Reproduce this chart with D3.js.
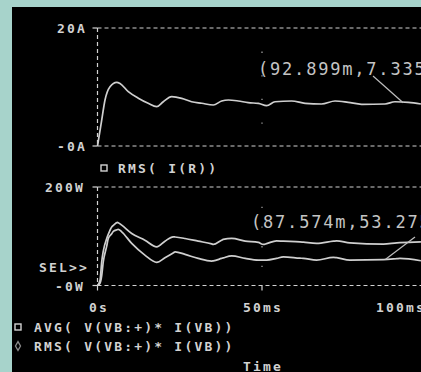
<!DOCTYPE html>
<html><head><meta charset="utf-8">
<script src="https://cdn.jsdelivr.net/npm/d3@7"></script>
<style>html,body{margin:0;padding:0;background:#a7d3cb;}svg{display:block;}</style>
</head><body>
<svg id="c" width="421" height="372"></svg>
<script>
// ---- data ----
const timeMs = [0,1.28,2.28,3.8,5.84,6.84,9.36,12.4,15.4,18.0,20.0,22.55,25.6,28.6,31.7,35.2,37.75,39.8,42.8,45.8,48.9,51.4,53.95,59.0,63.1,68.1,72.2,76.2,80.3,87.4,90.4,94.5,98.3];
const rmsIR  = [0,4.4,7.8,10.05,10.8,10.6,9.2,8.1,7.24,6.66,7.5,8.36,8.08,7.5,7.24,6.95,7.63,7.8,7.63,7.34,7.24,6.83,7.5,7.63,7.24,7.12,7.63,7.4,7.07,7.12,7.5,7.4,7.12];
const timeMs2 = [0,0.76,1.28,1.76,2.8,3.28,4.32,4.8,6.14,6.3,7.36,10.4,14.4,18.0,20.5,23.0,23.6,26.6,30.6,34.7,35.2,37.7,38.2,40.8,44.9,48.9,50.4,51.4,54.4,56.5,61.5,62.6,66.6,71.7,72.7,76.7,86.9,91.0,91.9,98.3];
const rmsP = [0,10,48.2,70,95.5,104,119,122,128,127.5,122.5,105.7,92.1,78.5,90,98.8,98.5,95.5,90,84.5,83.4,92,93.5,95.5,90,87.4,83.4,85,90.7,90,88.7,88,85.4,90,90.7,86.6,84,86.6,87,88.7];
const avgP = [0,4.5,20,48.2,80,95.5,105,110,113.5,114,109,85.4,61.7,47,56.3,66,68.4,63.2,55,49.6,50,55,56,60.3,55,51.6,51.6,51.6,55,58.3,55.5,55,51.6,57.1,56.5,51.6,52.5,54.5,55,50.2];
const xTicks = [{t:0,label:"0s"},{t:50,label:"50ms"},{t:100,label:"100ms"}];
const topTicks = [{v:20,label:"20A"},{v:0,label:"-0A"}];
const botTicks = [{v:200,label:"200W"},{v:0,label:"-0W"}];
const cursors = [{panel:"top",t:92.899,v:7.335,text:"(92.899m,7.335"},{panel:"bot",t:87.574,v:53.275,text:"(87.574m,53.275"}];
const legendTop = ["RMS( I(R))"];
const legendBot = ["AVG( V(VB:+)* I(VB))","RMS( V(VB:+)* I(VB))"];

// ---- drawing ----
const svg = d3.select("#c");
const fg = "#d2d2d2";
const font = "'DejaVu Sans Mono', monospace";
svg.append("rect").attr("x",12).attr("y",7).attr("width",409).attr("height",365).attr("fill","#000");

const x = d3.scaleLinear().domain([0,100]).range([97.5,426.5]);
const yT = d3.scaleLinear().domain([0,20]).range([146,28]);
const yB = d3.scaleLinear().domain([0,200]).range([285.5,187]);

function label(txt,xx,yy,opt={}) {
  return svg.append("text").attr("x",xx).attr("y",yy).text(txt)
    .attr("fill",opt.fill||fg).attr("font-family",font)
    .attr("font-size",opt.size||13).attr("font-weight",opt.weight||"bold")
    .attr("letter-spacing",opt.ls!==undefined?opt.ls:2.2);
}

function panel(y, ticks, labelX) {
  const g = svg.append("g");
  const [y0,y1] = y.range();
  ticks.forEach((d,i)=>{
    g.append("line").attr("x1",x(0)).attr("x2",421).attr("y1",y(d.v)).attr("y2",y(d.v))
      .attr("stroke",fg).attr("stroke-width",1.2).attr("stroke-dasharray","4,3");
    g.append("line").attr("x1",x(0)-5).attr("x2",x(0)).attr("y1",y(d.v)).attr("y2",y(d.v))
      .attr("stroke",fg).attr("stroke-width",1.2);
    label(d.label, labelX[i], y(d.v)+5);
  });
  g.append("line").attr("x1",x(0)).attr("x2",x(0)).attr("y1",y1).attr("y2",y0)
    .attr("stroke",fg).attr("stroke-width",1.2).attr("stroke-dasharray","4,3");
  // dotted grid at 50ms
  g.append("line").attr("x1",x(50)).attr("x2",x(50)).attr("y1",y1).attr("y2",y0)
    .attr("stroke","#9a9a9a").attr("stroke-width",1.3)
    .attr("stroke-dasharray","1.3,"+((y0-y1)/ (y===yT?5:5) -1.3));
}
panel(yT, topTicks, [57,57]);
panel(yB, botTicks, [45,55]);

// x ticks
xTicks.forEach(d=>{
  if (x(d.t) < 421) svg.append("line").attr("x1",x(d.t)).attr("x2",x(d.t)).attr("y1",yB(0)).attr("y2",yB(0)+5)
    .attr("stroke",fg).attr("stroke-width",1.2);
});
label(xTicks[0].label, 89, 312);
label(xTicks[1].label, 243, 312);
label(xTicks[2].label, 376, 312);
label("SEL>>", 39, 272);
label("Time", 243, 371);

// curves
const lineT = d3.line().x((d,i)=>x(timeMs[i])).y(d=>yT(d)).curve(d3.curveMonotoneX);
const lineB = d3.line().x((d,i)=>x(timeMs2[i])).y(d=>yB(d)).curve(d3.curveMonotoneX);
const cp = svg.append("clipPath").attr("id","cp").append("rect").attr("x",12).attr("y",7).attr("width",409).attr("height",365);
[[lineT,rmsIR],[lineB,rmsP],[lineB,avgP]].forEach(([l,v])=>{
  svg.append("path").attr("d",l(v)).attr("fill","none").attr("stroke","#cfcfcf")
    .attr("stroke-width",1.7).attr("clip-path","url(#cp)");
});

// cursors
cursors.forEach(c=>{
  const y = c.panel==="top"?yT:yB;
  const px = x(c.t), py = y(c.v);
  const tx = c.panel==="top" ? 258 : 251;
  const ty = c.panel==="top" ? 75 : 228;
  label(c.text, tx, ty, {size:17, weight:"normal", ls:1.8, fill:"#c4c4c4"});
  const sx = c.panel==="top" ? 373 : 415, sy = c.panel==="top" ? 76 : 237;
  svg.append("line").attr("x1",sx).attr("y1",sy).attr("x2",px).attr("y2",py)
    .attr("stroke","#bdbdbd").attr("stroke-width",1.2);
});

// legends
function sq(cx,cy,col){ svg.append("rect").attr("x",cx-3).attr("y",cy-3).attr("width",6).attr("height",6)
  .attr("fill","none").attr("stroke",col).attr("stroke-width",1.4); }
sq(104,168,fg); label(legendTop[0],118,173);
sq(18,327,fg); label(legendBot[0],34,332);
svg.append("path").attr("d",d3.symbol(d3.symbolDiamond,22)()).attr("transform","translate(18,346)")
  .attr("fill","none").attr("stroke","#8a8a8a").attr("stroke-width",1.3);
label(legendBot[1],34,351);
</script>
</body></html>
